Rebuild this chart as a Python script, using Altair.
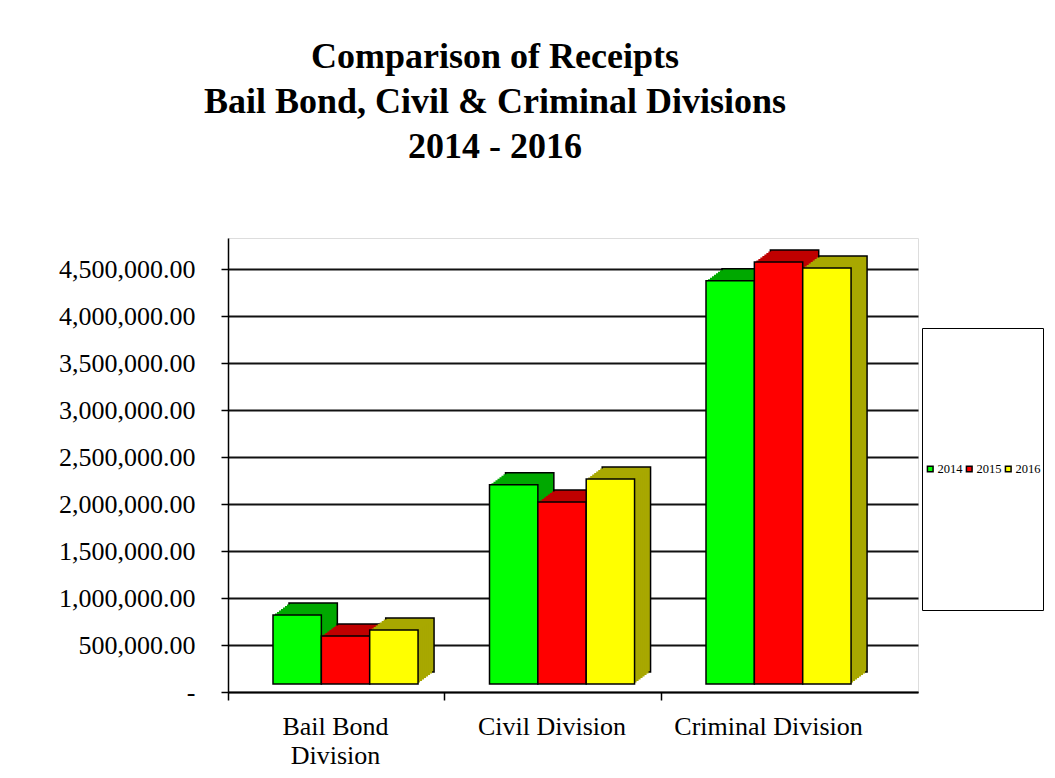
import altair as alt
import pandas as pd

# ---- data ----
divisions = ["Bail Bond Division", "Civil Division", "Criminal Division"]
years = ["2014", "2015", "2016"]
receipts_2014 = [735000, 2120000, 4290000]
receipts_2015 = [510000, 1935000, 4490000]
receipts_2016 = [575000, 2180000, 4425000]
y_ticks = [0, 500000, 1000000, 1500000, 2000000, 2500000, 3000000, 3500000, 4000000, 4500000]
title_lines = ["Comparison of Receipts", "Bail Bond, Civil & Criminal Divisions", "2014 - 2016"]

front_colors = ["#00ff00", "#ff0000", "#ffff00"]
depth_colors = ["#00a800", "#c00000", "#a8a800"]

rows = []
for i, d in enumerate(divisions):
    for y, series in zip(years, [receipts_2014, receipts_2015, receipts_2016]):
        rows.append({"division": d, "year": y, "value": series[i]})
df = pd.DataFrame(rows)

FONT = "Liberation Serif"
DEPTH_X, DEPTH_Y, STEPS = 16, 12, 8
LIFT = 8

x_enc = alt.X(
    "division:N",
    sort=divisions,
    title=None,
    scale=alt.Scale(paddingInner=0.33, paddingOuter=0.2585, align=0.402),
    axis=alt.Axis(
        labelAngle=0,
        bandPosition=-0.31,
        labelOffset=-10,
        labelFont=FONT,
        labelFontSize=26,
        labelColor="black",
        labelLineHeight=29,
        labelPadding=13,
        labelBaseline="top",
        labelLimit=400,
        labelExpr="datum.label == 'Bail Bond Division' ? ['Bail Bond', 'Division'] : datum.label",
        domainColor="black",
        domainWidth=1.5,
        tickColor="black",
        tickWidth=1.5,
        tickSize=8,
        grid=False,
    ),
)
y_enc = alt.Y(
    "value:Q",
    title=None,
    scale=alt.Scale(domain=[0, 4830000], nice=False, zero=True),
    axis=alt.Axis(
        values=y_ticks,
        labelExpr="datum.value == 0 ? '-' : format(datum.value, ',.2f')",
        labelFont=FONT,
        labelFontSize=26,
        labelColor="black",
        labelPadding=26,
        domainColor="black",
        domainWidth=1.5,
        tickColor="black",
        tickWidth=1.5,
        tickSize=7,
        grid=True,
        gridColor="#111111",
        gridWidth=1.8,
    ),
)

base = alt.Chart(df)

layers = []
for k in range(STEPS, 0, -1):
    dx = DEPTH_X * k / STEPS
    dy = -DEPTH_Y * k / STEPS - LIFT
    props = dict(yOffset=dy, y2Offset=dy)
    if k == STEPS:
        props.update(stroke="black", strokeWidth=1.5)
    else:
        props.update(strokeWidth=0)
    layers.append(
        base.mark_bar(**props).encode(
            x=x_enc,
            xOffset=alt.XOffset(
                "year:N",
                sort=years,
                scale=alt.Scale(range=[{"expr": f"{dx}"}, {"expr": f"bandwidth('x') + {dx}"}]),
            ),
            y=y_enc,
            fill=alt.Fill("year:N", scale=alt.Scale(domain=years, range=depth_colors), legend=None),
        )
    )

front = base.mark_bar(
    stroke="black", strokeWidth=1.5, yOffset=-LIFT, y2Offset=-LIFT
).encode(
    x=x_enc,
    xOffset=alt.XOffset("year:N", sort=years),
    y=y_enc,
    fill=alt.Fill(
        "year:N",
        scale=alt.Scale(domain=years, range=front_colors),
        legend=alt.Legend(
            title=None,
            orient="none",
            legendX=694,
            legendY=90,
            direction="horizontal",
            columns=3,
            symbolType="square",
            symbolSize=32,
            symbolStrokeColor="black",
            symbolStrokeWidth=1.5,
            labelFont=FONT,
            labelFontSize=12.5,
            labelColor="black",
            labelOffset=1,
            columnPadding=0,
            padding=2,
            clipHeight=278,
            fillColor="white",
            strokeColor="black",
        ),
    ),
)

chart = (
    alt.layer(*layers, front)
    .resolve_scale(fill="independent", xOffset="independent")
    .properties(
        width=690,
        height=454,
        autosize=alt.AutoSizeParams(type="none"),
        padding={"left": 220, "top": 230, "right": 129, "bottom": 78},
        title=alt.TitleParams(
            text=title_lines,
            font=FONT,
            fontSize=36,
            fontWeight="bold",
            color="black",
            lineHeight=45,
            anchor="middle",
            dx=-78,
            offset=72,
        ),
    )
    .configure_view(fill="#c0c0c0", stroke="#808080", strokeWidth=1.5)
    .configure(background="white")
)

chart.save("out.html", embed_options={"renderer": "svg", "actions": False})
